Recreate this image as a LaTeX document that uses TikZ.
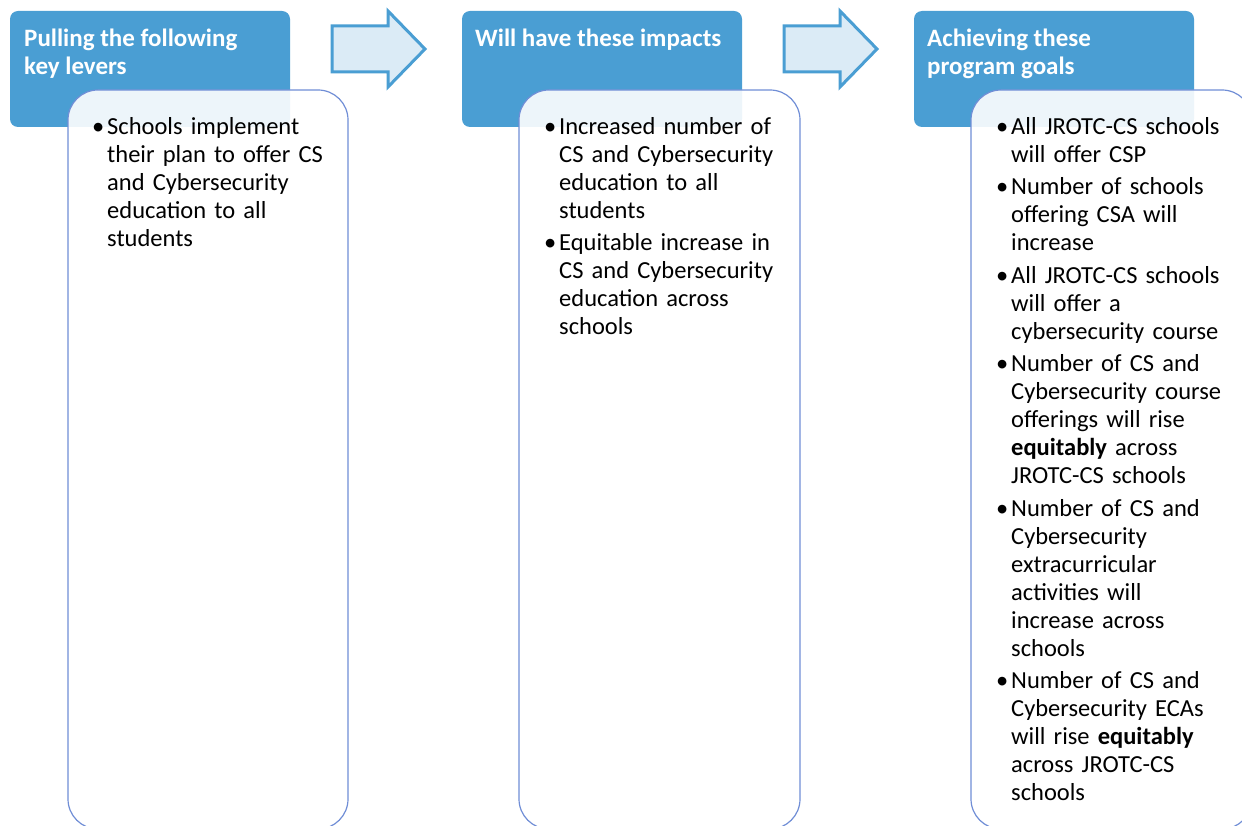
\documentclass[tikz,border=0pt]{standalone}
\usepackage{fontspec}
\setmainfont{Carlito}
\definecolor{hdrblue}{RGB}{74,158,211}
\definecolor{arrfill}{RGB}{219,235,246}
\definecolor{boxline}{RGB}{112,142,214}
\newcommand{\itm}[1]{\par\noindent\makebox[15pt][l]{\textbullet}\begin{tabular}[t]{@{}l@{}}#1\end{tabular}\par}
\tikzset{
  hdr/.style={fill=hdrblue, draw=none, rounded corners=8pt},
  bodybox/.style={fill=white, fill opacity=0.9, draw=boxline, line width=1.2pt, rounded corners=30pt},
  arr/.style={fill=arrfill, draw=hdrblue, line width=3pt, line join=miter},
  hdrtext/.style={anchor=north west, inner sep=0pt, text=white, font=\bfseries\fontsize{25}{28}\selectfont, align=left},
  bodytext/.style={anchor=north west, inner sep=0pt, text=black, text width=250pt, font=\fontsize{24.5}{28}\selectfont}
}
\begin{document}
\begin{tikzpicture}[x=1pt,y=-1pt]
\useasboundingbox (0,0) rectangle (1242,826);
% header boxes
\path[hdr] (10,11) rectangle (290,127);
\path[hdr] (462,11) rectangle (742,127);
\path[hdr] (914,11) rectangle (1194,127);
% arrows
\draw[arr] (332,26) -- (388,26) -- (388,11) -- (425,49) -- (388,87) -- (388,72) -- (332,72) -- cycle;
\draw[arr] (784,26) -- (840,26) -- (840,11) -- (877,49) -- (840,87) -- (840,72) -- (784,72) -- cycle;
% body boxes
\begin{scope}
\clip (0,0) rectangle (1242,826);
\draw[bodybox] (68,90) rectangle (348,829);
\draw[bodybox] (519,90) rectangle (800,829);
\draw[bodybox] (971,90) rectangle (1252,829);
\end{scope}
% header texts
\node[hdrtext] (t1) at (24,26) {\rule{0pt}{20pt}Pulling the following\\key levers};
\node[hdrtext] (t2) at (475,26) {\rule{0pt}{20pt}Will have these impacts};
\node[hdrtext] (t3) at (927,26) {\rule{0pt}{20pt}Achieving these\\program goals};
% body texts
\node[bodytext] (c1) at (92,102.4) {\parskip=3.5pt%
\itm{Schools implement\\their plan to offer CS\\and Cybersecurity\\education to all\\students}};
\node[bodytext] (c2) at (544,102.4) {\parskip=3.5pt%
\itm{Increased number of\\CS and Cybersecurity\\education to all\\students}
\itm{Equitable increase in\\CS and Cybersecurity\\education across\\schools}};
\node[bodytext] (c3) at (996,102.4) {\parskip=3.5pt%
\itm{All JROTC-CS schools\\will offer CSP}
\itm{Number of schools\\offering CSA will\\increase}
\itm{All JROTC-CS schools\\will offer a\\cybersecurity course}
\itm{Number of CS and\\Cybersecurity course\\offerings will rise\\\textbf{equitably} across\\JROTC-CS schools}
\itm{Number of CS and\\Cybersecurity\\extracurricular\\activities will\\increase across\\schools}
\itm{Number of CS and\\Cybersecurity ECAs\\will rise \textbf{equitably}\\across JROTC-CS\\schools}};
\end{tikzpicture}
\end{document}
